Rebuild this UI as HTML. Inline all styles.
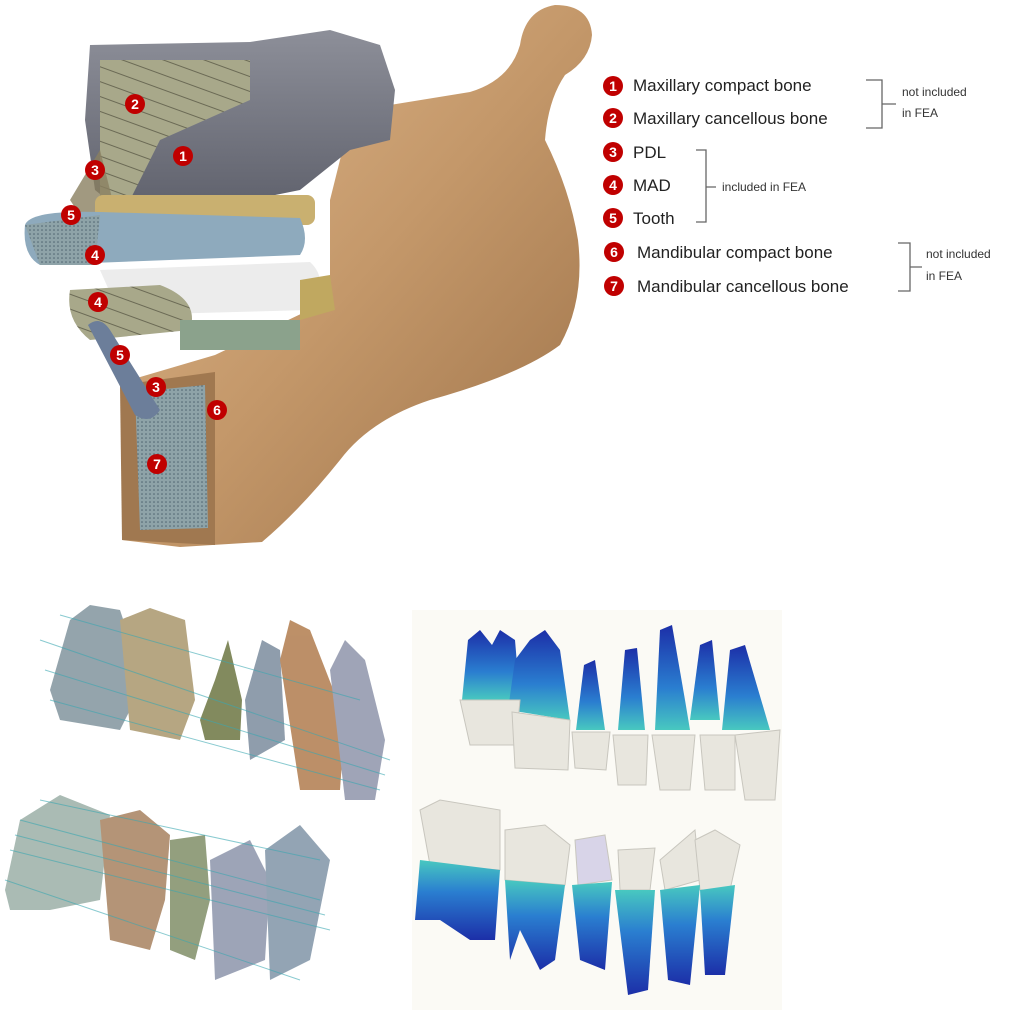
<!DOCTYPE html>
<html><head><meta charset="utf-8"><style>
html,body{margin:0;padding:0;background:#fff;}
svg{display:block;}
text{font-family:"Liberation Sans",sans-serif;}
</style></head><body>
<svg width="1024" height="1013" viewBox="0 0 1024 1013" xmlns="http://www.w3.org/2000/svg">
<defs>
<linearGradient id="bone" x1="0" y1="0" x2="1" y2="1">
<stop offset="0" stop-color="#e0b98e"/><stop offset="0.5" stop-color="#c4986a"/><stop offset="1" stop-color="#9c7148"/></linearGradient>
<linearGradient id="grey" x1="0" y1="0" x2="0" y2="1"><stop offset="0" stop-color="#8d8f99"/><stop offset="1" stop-color="#5f616c"/></linearGradient>
<linearGradient id="blueT" x1="0" y1="0" x2="0" y2="1"><stop offset="0" stop-color="#1c2fa8"/><stop offset="0.6" stop-color="#2a7ed0"/><stop offset="1" stop-color="#48c8c0"/></linearGradient>
<linearGradient id="blueB" x1="0" y1="1" x2="0" y2="0"><stop offset="0" stop-color="#1c2fa8"/><stop offset="0.6" stop-color="#2a7ed0"/><stop offset="1" stop-color="#48c8c0"/></linearGradient>
<pattern id="hatch" width="14" height="14" patternUnits="userSpaceOnUse" patternTransform="rotate(20)"><rect width="14" height="14" fill="#a8a88a"/><line x1="0" y1="0" x2="14" y2="0" stroke="#6b6a55" stroke-width="2"/></pattern>
<pattern id="dots" width="4" height="4" patternUnits="userSpaceOnUse"><rect width="4" height="4" fill="#8ea3a8"/><circle cx="2" cy="2" r="0.8" fill="#4e6470"/></pattern>
</defs>
<!-- mandible -->
<path d="M215 355 L330 300 L330 200 L345 140 L390 105 L470 92 Q510 80 520 45 Q525 10 555 5 Q590 5 592 35 Q590 60 565 75 Q548 100 545 140 Q570 190 578 240 Q585 300 560 345 Q520 375 430 400 Q370 420 340 460 Q300 510 262 542 L180 547 L122 540 L130 480 L125 400 L130 380 Z" fill="url(#bone)"/>
<path d="M120 385 L215 372 L215 545 L122 540 Z" fill="#a07850"/>
<path d="M135 392 L205 385 L208 528 L140 530 Z" fill="url(#dots)"/>
<!-- maxilla -->
<path d="M90 45 L250 42 L330 30 L380 45 L395 90 L390 140 L350 150 L300 190 L250 200 L180 200 L120 210 L95 190 L85 120 Z" fill="url(#grey)"/>
<path d="M100 60 L250 60 L250 100 L160 140 L120 220 L100 200 Z" fill="url(#hatch)"/>
<path d="M70 200 L100 150 L115 210 L90 230 Z" fill="#8a8060" opacity="0.8"/>
<!-- teeth/MAD -->
<rect x="95" y="195" width="220" height="30" rx="8" fill="#c9b070"/>
<path d="M25 225 Q30 210 100 212 L300 218 Q310 240 300 255 L40 265 Q22 255 25 225 Z" fill="#8eaabd"/>
<path d="M25 225 L100 215 L95 265 L40 265 Z" fill="url(#dots)"/>
<path d="M100 270 L310 262 Q330 280 310 310 L120 315 Z" fill="#ececec"/>
<path d="M300 280 L330 275 L335 310 L300 320 Z" fill="#c0a860"/>
<path d="M70 290 L160 285 Q200 300 190 330 L90 340 Q65 320 70 290 Z" fill="url(#hatch)"/>
<path d="M88 325 Q100 315 110 330 L160 410 Q150 425 135 415 Z" fill="#6c7e9a"/>
<rect x="180" y="320" width="120" height="30" fill="#8ba28c"/>
<!-- circles -->
<g font-size="14" font-weight="bold" fill="#fff" text-anchor="middle">
<g fill="#c00000"><circle cx="135" cy="104" r="10"/><circle cx="183" cy="156" r="10"/><circle cx="95" cy="170" r="10"/><circle cx="71" cy="215" r="10"/><circle cx="95" cy="255" r="10"/><circle cx="98" cy="302" r="10"/><circle cx="120" cy="355" r="10"/><circle cx="156" cy="387" r="10"/><circle cx="217" cy="410" r="10"/><circle cx="157" cy="464" r="10"/></g>
<text x="135" y="109">2</text><text x="183" y="161">1</text><text x="95" y="175">3</text><text x="71" y="220">5</text><text x="95" y="260">4</text><text x="98" y="307">4</text><text x="120" y="360">5</text><text x="156" y="392">3</text><text x="217" y="415">6</text><text x="157" y="469">7</text>
</g>
<!-- legend -->
<g fill="#c00000"><circle cx="613" cy="86" r="10"/><circle cx="613" cy="118" r="10"/><circle cx="613" cy="152" r="10"/><circle cx="613" cy="185" r="10"/><circle cx="613" cy="218" r="10"/><circle cx="614" cy="252" r="10"/><circle cx="614" cy="286" r="10"/></g>
<g font-size="14" font-weight="bold" fill="#fff" text-anchor="middle"><text x="613" y="91">1</text><text x="613" y="123">2</text><text x="613" y="157">3</text><text x="613" y="190">4</text><text x="613" y="223">5</text><text x="614" y="257">6</text><text x="614" y="291">7</text></g>
<g font-size="17" fill="#222"><text x="633" y="91">Maxillary compact bone</text><text x="633" y="124">Maxillary cancellous bone</text><text x="633" y="158">PDL</text><text x="633" y="191">MAD</text><text x="633" y="224">Tooth</text><text x="637" y="258">Mandibular compact bone</text><text x="637" y="292">Mandibular cancellous bone</text></g>
<g font-size="12" fill="#333"><text x="902" y="96">not included</text><text x="902" y="117">in FEA</text><text x="722" y="191">included in FEA</text><text x="926" y="258">not included</text><text x="926" y="280">in FEA</text></g>
<g fill="none" stroke="#666" stroke-width="1.3"><path d="M866 80 H882 V128 H866 M882 104 H896"/><path d="M696 150 H706 V222 H696 M706 187 H716"/><path d="M898 243 H910 V291 H898 M910 267 H922"/></g>
<!-- bottom left teeth -->
<g opacity="0.95">
<path d="M50 690 L70 620 L90 605 L120 610 L130 640 L135 700 L120 730 L60 720 Z" fill="#8fa0a8"/>
<path d="M120 620 L150 608 L185 620 L195 700 L180 740 L130 730 Z" fill="#b3a27c"/>
<path d="M200 720 L215 680 L228 640 L242 700 L240 740 L205 740 Z" fill="#7c8456"/>
<path d="M245 700 L262 640 L280 650 L285 740 L250 760 Z" fill="#8a98a8"/>
<path d="M280 660 L290 620 L310 630 L345 720 L340 790 L300 790 Z" fill="#b98a60"/>
<path d="M330 670 L345 640 L365 660 L385 740 L375 800 L345 800 Z" fill="#9aa0b4"/>
<path d="M5 890 L20 820 L60 795 L110 815 L100 900 L50 910 L10 910 Z" fill="#a6b8b0"/>
<path d="M100 820 L140 810 L170 835 L165 900 L150 950 L110 940 Z" fill="#b08f70"/>
<path d="M170 840 L205 835 L210 900 L195 960 L170 950 Z" fill="#8e9a78"/>
<path d="M210 860 L250 840 L270 880 L265 960 L215 980 Z" fill="#98a0b4"/>
<path d="M265 850 L300 825 L330 860 L310 960 L270 980 Z" fill="#8ea0b0"/>
</g>
<g stroke="#3aa6b0" stroke-width="1" opacity="0.6" fill="none"><path d="M50 700 L380 790 M40 640 L390 760 M45 670 L385 775 M60 615 L360 700 M10 850 L330 930 M20 820 L320 900 M5 880 L300 980 M15 835 L325 915 M40 800 L320 860"/></g>
<!-- bottom right panel -->
<rect x="412" y="610" width="370" height="400" fill="#fbfaf5"/>
<g fill="url(#blueT)">
<path d="M462 700 L468 640 L480 630 L492 645 L500 630 L515 640 L520 700 Z"/>
<path d="M508 710 L515 660 L530 640 L545 630 L560 650 L570 720 Z"/>
<path d="M576 730 L584 665 L595 660 L605 730 Z"/>
<path d="M618 730 L625 650 L637 648 L645 730 Z"/>
<path d="M655 730 L660 630 L672 625 L685 700 L690 730 Z"/>
<path d="M690 720 L700 645 L712 640 L720 720 Z"/>
<path d="M722 730 L730 650 L745 645 L770 730 Z"/>
</g>
<g fill="#e8e6de" stroke="#c8c6be">
<path d="M460 700 L520 700 L516 745 L470 745 Z"/><path d="M512 712 L570 720 L568 770 L515 768 Z"/><path d="M572 732 L610 732 L606 770 L575 768 Z"/><path d="M613 735 L648 735 L646 785 L618 785 Z"/><path d="M652 735 L695 735 L690 790 L660 790 Z"/><path d="M700 735 L735 735 L735 790 L705 790 Z"/><path d="M735 735 L780 730 L775 800 L745 800 Z"/>
<path d="M420 810 L440 800 L500 810 L500 870 L430 865 Z"/><path d="M505 830 L545 825 L570 845 L565 885 L505 880 Z"/><path d="M575 840 L605 835 L612 880 L578 885 Z" fill="#d8d4e8"/><path d="M618 850 L655 848 L650 890 L620 890 Z"/><path d="M660 860 L695 830 L700 880 L665 890 Z"/><path d="M695 840 L715 830 L740 845 L730 890 L700 890 Z"/>
</g>
<g fill="url(#blueB)">
<path d="M420 860 L500 870 L495 940 L470 940 L440 920 L415 920 Z"/>
<path d="M505 880 L565 885 L555 960 L540 970 L520 930 L510 960 Z"/>
<path d="M572 885 L612 882 L605 970 L580 960 Z"/>
<path d="M615 890 L655 890 L648 990 L628 995 Z"/>
<path d="M660 890 L700 885 L690 985 L668 980 Z"/>
<path d="M700 890 L735 885 L725 975 L705 975 Z"/>
</g>
</svg>
</body></html>
